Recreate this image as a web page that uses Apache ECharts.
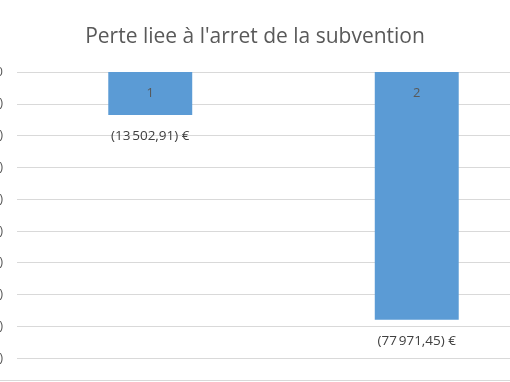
<!DOCTYPE html>
<html><head><meta charset="utf-8">
<script src="https://cdn.jsdelivr.net/npm/echarts@6/dist/echarts.min.js"></script>
<style>html,body{margin:0;padding:0;background:#fff}#c{width:510px;height:382px}</style>
</head><body><div id="c"></div>
<script>
var titleText = "Perte liee à l'arret de la subvention";
var categories = ["1", "2"];
var values = [-13502.91, -77971.45];
var axisMin = -90000, axisMax = 0, axisStep = 10000;

function fmtNum(v, dec) {
  var s = Math.abs(v).toFixed(dec).split('.');
  var ip = s[0].replace(/\B(?=(\d{3})+(?!\d))/g, '\u202F');
  return dec ? ip + ',' + s[1] : ip;
}
var chart = echarts.init(document.getElementById('c'));
chart.setOption({
  animation: false,
  title: { text: titleText, left: 'center', top: 22, textStyle: { fontFamily: 'Open Sans, Noto Sans, sans-serif', fontSize: 21, fontWeight: 'normal', color: '#595959' } },
  grid: { left: 17, right: -40, top: 72, bottom: 24, containLabel: false, outerBoundsMode: 'none' },
  xAxis: { type: 'category', data: categories, axisLine: { show: false }, axisTick: { show: false }, axisLabel: { show: false } },
  yAxis: { type: 'value', min: axisMin, max: axisMax, interval: axisStep,
    axisLine: { show: false }, axisTick: { show: false },
    splitLine: { lineStyle: { color: '#d9d9d9', width: 1 } },
    axisLabel: { margin: 14, color: '#595959', fontSize: 13, fontFamily: 'Open Sans, sans-serif',
      formatter: function (v) { return v < 0 ? '(' + fmtNum(v, 0) + ')' : '0'; } } },
  series: [
    { type: 'bar', data: values, barWidth: '31.5%', itemStyle: { color: '#5b9bd5' },
      label: { show: true, position: 'bottom', distance: 14, color: '#404040', fontSize: 13.5, fontFamily: 'Open Sans, sans-serif',
        formatter: function (p) { return '(' + fmtNum(p.value, 2) + ') €'; } } },
    { type: 'bar', data: values, barWidth: '31.5%', barGap: '-100%', silent: true, itemStyle: { color: 'rgba(0,0,0,0)' },
      label: { show: true, position: 'insideTop', distance: 15, color: '#595959', fontSize: 13, fontFamily: 'Open Sans, sans-serif',
        formatter: function (p) { return p.name; } } }
  ],
  graphic: [ { type: 'line', shape: { x1: 0, y1: 380.5, x2: 510, y2: 380.5 }, style: { stroke: '#d9d9d9', lineWidth: 1 } } ]
});
</script></body></html>
